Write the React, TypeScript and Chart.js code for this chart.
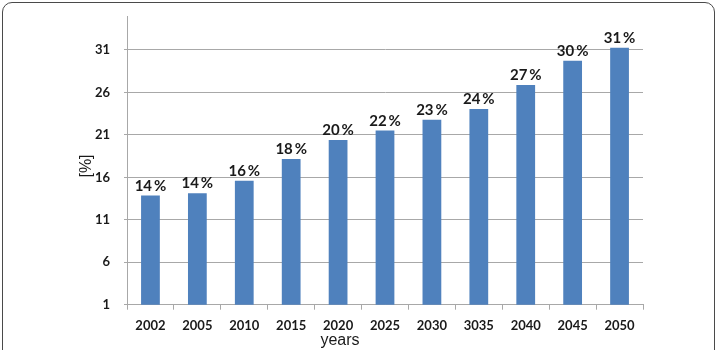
import React, { useEffect, useRef } from "react";
import { Chart, registerables } from "chart.js";

Chart.register(...registerables);

// Share per year, in percent
const years = ["2002", "2005", "2010", "2015", "2020", "2025", "2030", "3035", "2040", "2045", "2050"];
const shares = [13.85, 14.14, 15.59, 18.15, 20.39, 21.52, 22.78, 24.04, 26.87, 29.74, 31.27];

// Value axis
const yTicks = [1, 6, 11, 16, 21, 26, 31];
const yMin = 1;
const yMax = 35;

const xTitle = "years";
const yTitle = "[%]";

const BAR_BLUE = "#4f81bd";
const GRID_GREY = "#a8a8a8";
const TEXT_DARK = "#1a1a1a";
const LABEL_FONT = "Lato, 'Open Sans', sans-serif";

const barValueLabels = {
  id: "barValueLabels",
  afterDatasetsDraw(chart: any) {
    const { ctx } = chart;
    const meta = chart.getDatasetMeta(0);
    ctx.save();
    ctx.font = `bold 15px ${LABEL_FONT}`;
    ctx.fillStyle = TEXT_DARK;
    ctx.textAlign = "center";
    ctx.textBaseline = "bottom";
    meta.data.forEach((bar: any, i: number) => {
      const text = `${Math.round(shares[i])}\u2009%`;
      ctx.fillText(text, bar.x, bar.y - 2);
    });
    ctx.restore();
  },
};

const axisTitles = {
  id: "axisTitles",
  afterDraw(chart: any) {
    const { ctx, chartArea } = chart;
    ctx.save();
    ctx.fillStyle = TEXT_DARK;
    ctx.font = "16px 'Liberation Sans', Arial, sans-serif";
    ctx.textAlign = "center";
    ctx.textBaseline = "alphabetic";
    ctx.fillText(xTitle, chartArea.left + 213, chart.height - 5);

    ctx.font = "16px 'Liberation Sans', Arial, sans-serif";
    ctx.translate(chartArea.left - 40, chartArea.top + 150);
    ctx.rotate(-Math.PI / 2);
    ctx.textBaseline = "middle";
    ctx.fillText(yTitle, 0, 0);
    ctx.restore();
  },
};

export default function App() {
  const canvasRef = useRef<HTMLCanvasElement | null>(null);

  useEffect(() => {
    const canvas = canvasRef.current;
    if (!canvas) return;
    const chart = new Chart(canvas, {
      type: "bar",
      data: {
        labels: years,
        datasets: [
          {
            data: shares,
            backgroundColor: BAR_BLUE,
            borderWidth: 0,
            categoryPercentage: 1,
            barPercentage: 0.4,
          },
        ],
      },
      options: {
        responsive: false,
        animation: false,
        layout: { padding: { top: 16, right: 78, left: 0, bottom: 0 } },
        plugins: {
          legend: { display: false },
          tooltip: { enabled: false },
          title: { display: false },
        },
        scales: {
          x: {
            grid: {
              display: true,
              drawOnChartArea: false,
              drawTicks: true,
              tickLength: 5,
              color: GRID_GREY,
              offset: true,
            },
            border: { color: GRID_GREY },
            ticks: {
              color: TEXT_DARK,
              font: { family: LABEL_FONT, size: 13, weight: "bold" },
              padding: 8,
              maxRotation: 0,
            },
            afterFit(scale: any) {
              scale.height = 45.3;
              scale.paddingLeft = 0;
              scale.paddingRight = 0;
            },
          },
          y: {
            min: yMin,
            max: yMax,
            ticks: {
              stepSize: 5,
              color: TEXT_DARK,
              font: { family: LABEL_FONT, size: 13, weight: "bold" },
              padding: 14,
            },
            afterBuildTicks(scale: any) {
              scale.ticks = yTicks.map((v) => ({ value: v }));
            },
            grid: { color: GRID_GREY, tickLength: 3, lineWidth: 1 },
            border: { color: GRID_GREY },
            afterFit(scale: any) {
              scale.width = 127;
              scale.paddingTop = 0;
              scale.paddingBottom = 0;
            },
          },
        },
      },
      plugins: [barValueLabels, axisTitles],
    });
    return () => chart.destroy();
  }, []);

  return (
    <div
      style={{
        position: "fixed",
        left: 0,
        top: 0,
        width: 721,
        height: 350,
        overflow: "hidden",
        background: "#ffffff",
      }}
    >
      <div
        style={{
          position: "absolute",
          left: 2,
          top: 2,
          width: 713,
          height: 370,
          border: "1.5px solid #4a4a4a",
          borderRadius: 10,
          boxSizing: "border-box",
        }}
      />
      <canvas
        ref={canvasRef}
        width={721}
        height={350}
        style={{ position: "absolute", left: 0, top: 0, width: 721, height: 350 }}
      />
    </div>
  );
}
